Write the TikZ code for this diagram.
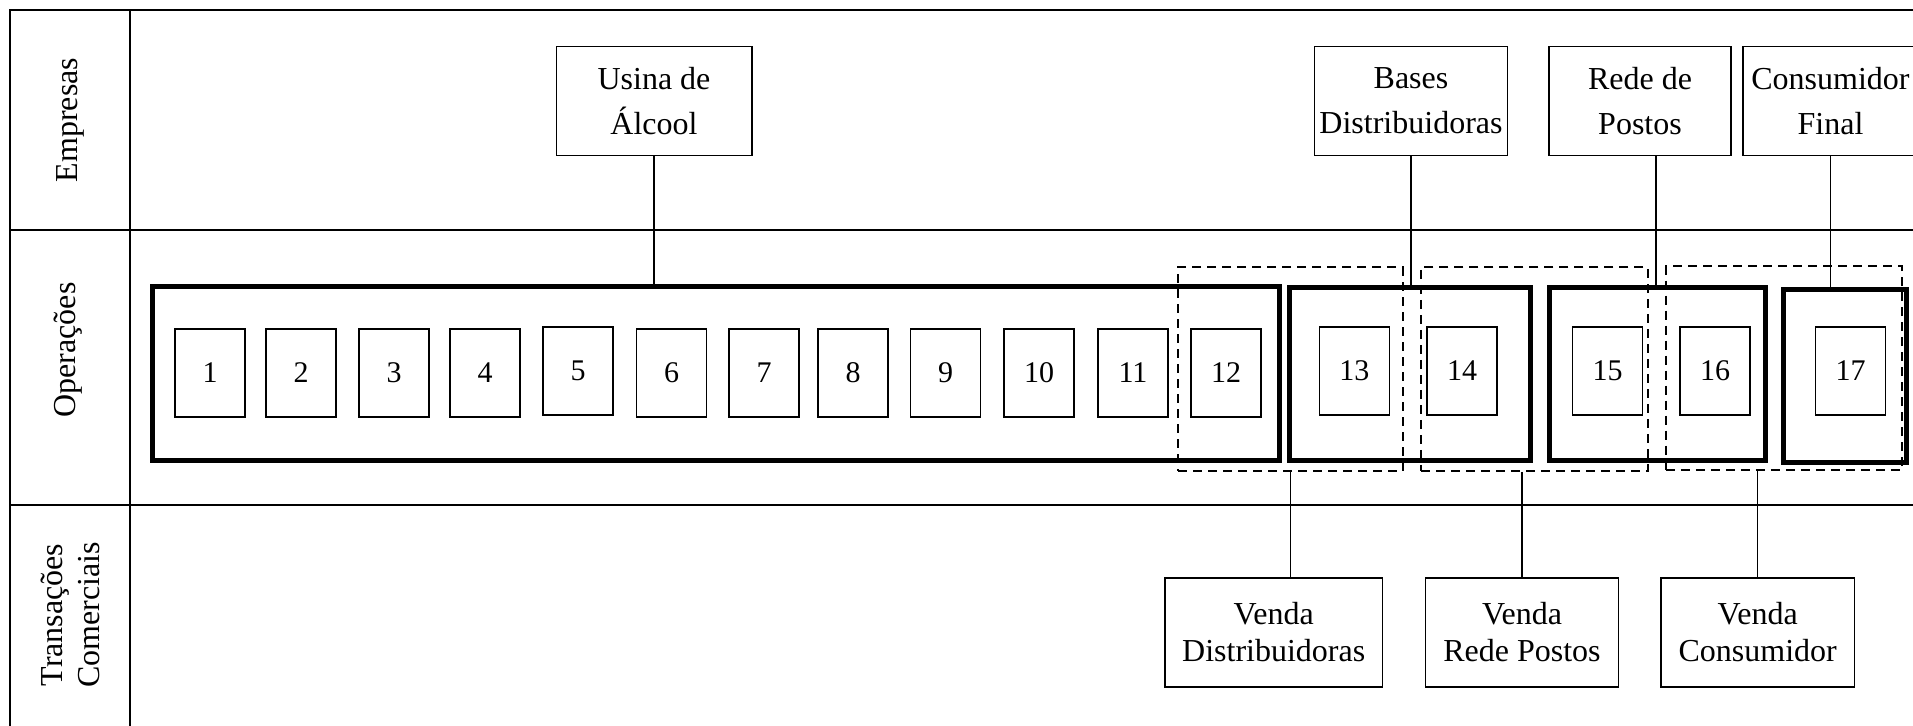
\documentclass[tikz,border=0pt]{standalone}
\usepackage{fontspec}
\setmainfont{Liberation Serif}

\begin{document}
\begin{tikzpicture}[
    x=0.5pt, y=-0.5pt,
    liga/.style={line width=0.75pt},
    rotulo/.style={rotate=90, align=center, font=\fontsize{16}{18.5}\selectfont},
    empresa/.style={draw, line width=0.75pt, minimum height=54.5pt,
                    align=center, inner sep=0pt,
                    font=\fontsize{16}{22.5}\selectfont},
    venda/.style={empresa, font=\fontsize{16}{18.5}\selectfont},
    oper/.style={draw, line width=0.75pt, minimum width=35pt,
                 minimum height=44pt, inner sep=0pt,
                 font=\fontsize{15}{18}\selectfont},
    grupo/.style={draw, line width=2.5pt, minimum height=86.6pt, inner sep=0pt},
    conjunto/.style={draw, line width=1pt, dash pattern=on 4.5pt off 3pt,
                     minimum height=101.9pt, inner sep=0pt}
  ]
    % unidade: 1 pixel da figura original = 0,5pt
    \clip (0,0) rectangle (1913,725);
    % moldura e faixas
    \draw[liga] (10,10) rectangle (1940,760);
    \draw[liga] (130,10) -- (130,760);
    \draw[liga] (10,230) -- (1940,230);
    \draw[liga] (10,505) -- (1940,505);
    \node[rotulo] (empresas)   at (70,120) {Empresas};
    \node[rotulo] (operacoes)  at (68,350) {Operações};
    \node[rotulo] (transacoes) at (70,615) {Transações\\Comerciais};
    % empresas
    \node[empresa, minimum width=97.75pt] (usina)      at (654,101)    {Usina de\\Álcool};
    \node[empresa, minimum width=96.5pt]  (bases)      at (1411,101)   {Bases\\Distribuidoras};
    \node[empresa, minimum width=90.85pt] (rede)       at (1640,101)   {Rede de\\Postos};
    \node[empresa, minimum width=87.75pt] (consumidor) at (1830.5,101) {Consumidor\\Final};
    % operacoes
    \node[grupo, minimum width=563.5pt] (g1) at (716,373.5)    {};
    \node[grupo, minimum width=120.4pt] (g2) at (1410,373.8)   {};
    \node[grupo, minimum width=108.3pt] (g3) at (1657.3,373.8) {};
    \node[grupo, minimum width=61.5pt]  (g4) at (1844.5,376.3) {};
    \foreach \n/\x/\y in {1/210/373, 2/301/373, 3/394/373, 4/485/373,
        5/578/371, 6/671.5/373, 7/764/373, 8/853/373, 9/945.5/373,
        10/1039/373, 11/1133/373, 12/1226/373, 13/1354.4/371,
        14/1462/371, 15/1607.7/371, 16/1715/371, 17/1850.5/371}
      \node[oper] (op\n) at (\x,\y) {\n};
    \node[conjunto, minimum width=112.3pt] (conj1) at (1290.3,369.2) {};
    \node[conjunto, minimum width=113.4pt] (conj2) at (1534.4,369.2) {};
    \node[conjunto, minimum width=118pt]   (conj3) at (1783.8,368.2) {};
    % transacoes comerciais
    \node[venda, minimum width=108.85pt] (vdist) at (1273.7,632.5) {Venda\\Distribuidoras};
    \node[venda, minimum width=96.5pt]   (vrede) at (1522,632.5)   {Venda\\Rede Postos};
    \node[venda, minimum width=96.65pt]  (vcons) at (1757.7,632.5) {Venda\\Consumidor};
    % ligacoes
    \draw[liga] (usina.south) -- (usina.south |- g1.north);
    \draw[liga] (bases.south) -- (bases.south |- g2.north);
    \draw[liga] ([xshift=8pt]rede.south) -- ([xshift=8pt]rede.south |- g3.north);
    \draw[liga] (consumidor.south) -- (consumidor.south |- g4.north);
    \draw[liga] (conj1.south) -- (conj1.south |- vdist.north);
    \draw[liga] (vrede.north) -- (vrede.north |- conj2.south);
    \draw[liga] (vcons.north) -- (vcons.north |- conj3.south);
\end{tikzpicture}
\end{document}
